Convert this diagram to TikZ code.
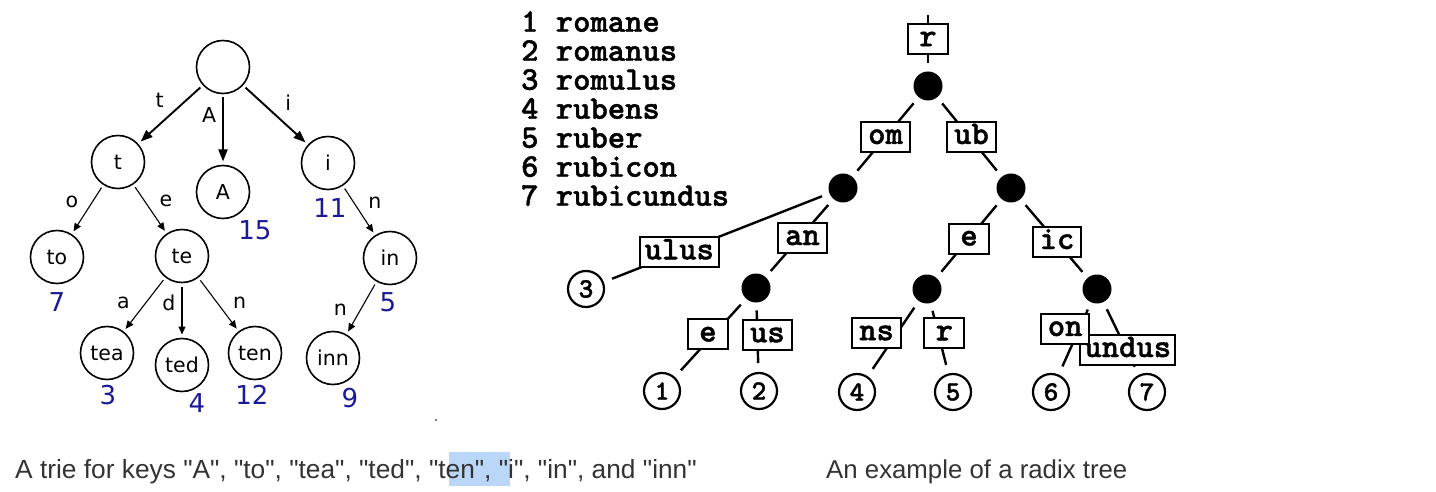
\documentclass[tikz,border=0pt]{standalone}
\usepackage{fontspec}
\usepackage{tikz}
\usetikzlibrary{positioning,arrows.meta}
\newfontfamily\triefont{DejaVu Sans}
\newfontfamily\capfont{Liberation Sans}
\newfontfamily\codefont{lmmonolt10-bold.otf}[FakeBold=1.3]
\definecolor{numblue}{RGB}{26,26,150}
\definecolor{capgray}{RGB}{51,51,51}
\definecolor{selblue}{RGB}{186,214,248}

\begin{document}
\begin{tikzpicture}[
            x=1pt, y=-1pt,
            key/.style={circle,draw,line width=1.6pt,minimum size=53pt,
                inner sep=0pt, outer sep=4pt,
                font=\triefont\fontsize{20.5}{20.5}\selectfont},
            num/.style={inner sep=1pt,text=numblue,
                font=\triefont\fontsize{26}{26}\selectfont},
            elbl/.style={inner sep=6pt,font=\triefont\fontsize{20.5}{20.5}\selectfont},
            up/.style={-{Triangle[length=12pt,width=9pt]},line width=1.9pt},
            low/.style={-{Triangle[length=8pt,width=7pt]},line width=1.1pt},
            dot/.style={circle,fill,minimum size=29pt,inner sep=0pt,outer sep=8pt},
            leaf/.style={circle,draw,line width=2.2pt,minimum size=36pt,
                inner sep=0pt, outer sep=10pt,
                font=\codefont\fontsize{28}{28}\selectfont},
            lbl/.style={draw,fill=white,line width=2pt,minimum width=40pt,
                minimum height=30pt,inner xsep=7pt,inner ysep=2pt,
                text height=14pt,text depth=0pt,
                font=\codefont\fontsize{33}{33}\selectfont},
            branch/.style={line width=2.4pt},
            listtxt/.style={inner sep=0pt,align=left,
                font=\codefont\fontsize{33}{29}\selectfont},
            captxt/.style={inner sep=0pt,text=capgray,font=\capfont\fontsize{26.3}{26.3}\selectfont}
        ]
        \useasboundingbox (0,0) rectangle (1436,492);

        % trie
        \node[key] (kroot) at (223,67) {};
        \node[key] (kt) at (118,162) {t};
        \node[key] (kA) at (223,192) {A};
        \node[key] (ki) at (328,163) {i};
        \node[key] (kto) at (57,257) {to};
        \node[key] (kte) at (182,256) {te};
        \node[key] (kin) at (390,258) {in};
        \node[key] (ktea) at (107,353) {tea};
        \node[key] (kted) at (182,365) {ted};
        \node[key] (kten) at (255,353) {ten};
        \node[key] (kinn) at (333,358) {inn};

        \draw[up] (kroot) -- node[elbl, above left] {t} (kt);
        \draw[up] (kroot) -- node[elbl, pos=0.27, left] {A} (kA);
        \draw[up] (kroot) -- node[elbl, pos=0.55, above right] {i} (ki);
        \draw[low] (kt) -- node[elbl, pos=0.6, above left] {o} (kto);
        \draw[low] (kt) -- node[elbl, pos=0.6, above right] {e} (kte);
        \draw[low] (ki) -- node[elbl, pos=0.6, above right] {n} (kin);
        \draw[low] (kte) -- node[elbl, pos=0.72, above left] {a} (ktea);
        \draw[low] (kte) -- node[elbl, pos=0.34, left] {d} (kted);
        \draw[low] (kte) -- node[elbl, pos=0.72, above right] {n} (kten);
        \draw[low] (kin) -- node[elbl, pos=0.8, above left] {n} (kinn);

        \node[num, below=-3pt of kA, xshift=32pt] (n15) {15};
        \node[num, below=4pt of ki, xshift=2pt] (n11) {11};
        \node[num, below=4pt of kto] (n7) {7};
        \node[num, below=3pt of kin, xshift=-2pt] (n5) {5};
        \node[num, below=1pt of ktea, xshift=1pt] (n3) {3};
        \node[num, below=-3pt of kted, xshift=15pt] (n4) {4};
        \node[num, below=1pt of kten, xshift=-3pt] (n12) {12};
        \node[num, below=-1pt of kinn, xshift=17pt] (n9) {9};

        \fill[black!70] (436,420) circle (1.2pt);

        % radix tree
        \node[listtxt, anchor=north west] (words) at (521,11)
            {1 romane\\2 romanus\\3 romulus\\4 rubens\\5 ruber\\6 rubicon\\7 rubicundus};

        \coordinate (rtop) at (928,15);
        \node[dot] (dR) at (928,86) {};
        \node[dot] (dRom) at (843,188) {};
        \node[dot] (dRub) at (1011,188) {};
        \node[dot] (dRoman) at (756,288) {};
        \node[dot] (dRube) at (927,289) {};
        \node[dot] (dRubic) at (1097,289) {};
        \node[leaf] (w1) at (662,391) {1};
        \node[leaf] (w2) at (759,391) {2};
        \node[leaf] (w3) at (586,289) {3};
        \node[leaf] (w4) at (857,392) {4};
        \node[leaf] (w5) at (953,392) {5};
        \node[leaf] (w6) at (1051,392) {6};
        \node[leaf] (w7) at (1147,392) {7};

        \draw[branch] (rtop) -- node[lbl] {r} (dR);
        \draw[branch] (dR) -- node[lbl] {om} (dRom);
        \draw[branch] (dR) -- node[lbl, xshift=2pt] {ub} (dRub);
        \draw[branch] (dRom) -- node[lbl, pos=0.68, inner xsep=5pt] {ulus} (w3);
        \draw[branch] (dRom) -- node[lbl, xshift=3pt] {an} (dRoman);
        \draw[branch] (dRoman) -- node[lbl, xshift=-3pt, yshift=3pt] {e} (w1);
        \draw[branch] (dRoman) -- node[lbl, xshift=10pt, yshift=1.5pt] {us} (w2);
        \draw[branch] (dRub) -- node[lbl] {e} (dRube);
        \draw[branch] (dRub) -- node[lbl, xshift=3pt, yshift=-3.5pt] {ic} (dRubic);
        \draw[branch] (dRube) -- node[lbl, xshift=-17pt, yshift=5pt] {ns} (w4);
        \draw[branch] (dRube) -- node[lbl, xshift=5pt, yshift=4.5pt] {r} (w5);
        \draw[branch] (dRubic) -- node[lbl, xshift=7pt, yshift=-12pt, inner xsep=4pt] {undus} (w7);
        \draw[branch] (dRubic) -- node[lbl, xshift=-10pt, yshift=9pt] {on} (w6);

        % captions
        \fill[selblue] (449,452) rectangle (510,486);
        \node[captxt, anchor=base west] (capTrie) at (15,478)
            {A trie for keys "A", "to", "tea", "ted", "ten", "i", "in", and "inn"};
        \node[captxt, anchor=base west, font=\capfont\fontsize{25.8}{25.8}\selectfont] (capRadix) at (826,478) {An example of a radix tree};
    \end{tikzpicture}
\end{document}
